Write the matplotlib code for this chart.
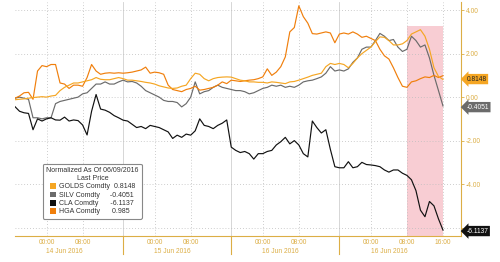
import matplotlib
matplotlib.use('Agg')
import matplotlib.pyplot as plt
import matplotlib.dates as mdates
import matplotlib.transforms as mtransforms
from matplotlib.patches import Patch
import pandas as pd

plt.rcParams['font.family'] = ['Liberation Sans', 'DejaVu Sans']

# hourly readings, 13 Jun 17:00 -> 17 Jun 16:00 (normalized, %)
times = pd.date_range('2016-06-13 17:00', periods=96, freq='h')

golds = [-0.12, -0.1, -0.08, -0.05, -0.02, 0.0, 0.02, 0.0, 0.05, 0.08,
         0.3, 0.45, 0.55, 0.65, 0.65, 0.7, 0.75, 0.8, 0.9, 0.82,
         0.8, 0.8, 0.85, 0.9, 0.85, 0.78, 0.78, 0.75, 0.72, 0.68,
         0.65, 0.6, 0.52, 0.47, 0.42, 0.4, 0.42, 0.5, 0.55, 0.85,
         1.1, 1.05, 0.85, 0.75, 0.85, 0.9, 0.92, 0.93, 0.92, 0.85,
         0.78, 0.75, 0.7, 0.7, 0.68, 0.68, 0.65, 0.7, 0.68, 0.65,
         0.62, 0.7, 0.72, 0.78, 0.85, 0.92, 1.0, 1.05, 1.1, 1.4,
         1.55, 1.5, 1.55, 1.5, 1.35, 1.55, 1.8, 2.0, 2.15, 2.3,
         2.55, 2.77, 2.75, 2.6, 2.4, 2.4, 2.45, 2.6, 2.9, 3.0,
         3.1, 2.8, 2.2, 1.35, 0.95, 0.8148]

silv = [-0.05, 0.0, -0.05, -0.1, -0.95, -0.95, -1.0, -0.95, -0.95, -0.3,
        -0.2, -0.15, -0.1, -0.05, 0.0, 0.15, 0.2, 0.4, 0.6, 0.6,
        0.7, 0.6, 0.6, 0.7, 0.78, 0.7, 0.72, 0.65, 0.5, 0.3,
        0.2, 0.1, 0.0, -0.15, -0.2, -0.2, -0.25, -0.45, -0.3, 0.0,
        0.7, 0.15, 0.25, 0.3, 0.45, 0.55, 0.45, 0.4, 0.35, 0.3,
        0.3, 0.25, 0.15, 0.2, 0.3, 0.4, 0.45, 0.55, 0.5, 0.55,
        0.45, 0.5, 0.45, 0.55, 0.7, 0.75, 0.78, 0.85, 0.93, 1.1,
        1.4, 1.2, 1.25, 1.2, 1.3, 1.6, 1.8, 2.2, 2.3, 2.3,
        2.6, 2.93, 2.8, 2.6, 2.65, 2.3, 2.1, 2.2, 2.8, 2.6,
        2.3, 2.4, 1.8, 1.0, 0.3, -0.4051]

cla = [-0.44, -0.65, -0.72, -0.75, -1.5, -1.0, -1.1, -1.0, -0.95, -1.05,
       -1.06, -0.92, -1.1, -1.05, -1.08, -1.28, -1.74, -0.65, 0.12, -0.55,
       -0.6, -0.7, -0.85, -0.95, -1.06, -1.1, -1.25, -1.4, -1.35, -1.45,
       -1.3, -1.35, -1.4, -1.5, -1.6, -1.9, -1.75, -1.85, -1.7, -1.75,
       -1.55, -1.0, -1.3, -1.35, -1.45, -1.3, -1.2, -1.05, -2.3, -2.45,
       -2.55, -2.5, -2.6, -2.85, -2.6, -2.6, -2.5, -2.45, -2.2, -2.05,
       -1.85, -2.15, -2.0, -2.2, -2.6, -2.75, -1.1, -1.4, -1.65, -1.5,
       -2.4, -3.2, -3.25, -3.25, -2.97, -3.25, -3.2, -3.0, -3.1, -3.12,
       -3.15, -3.2, -3.35, -3.45, -3.35, -3.35, -3.5, -3.6, -3.8, -4.3,
       -5.2, -5.5, -4.8, -5.0, -5.6, -6.1137]

hga = [-0.05, 0.05, 0.2, 0.22, -0.1, 1.2, 1.45, 1.4, 1.5, 1.5,
       0.65, 0.6, 0.4, 0.55, 0.55, 0.5, 0.9, 1.5, 1.2, 1.05,
       1.1, 1.12, 1.1, 1.12, 1.1, 1.12, 1.15, 1.2, 1.25, 1.38,
       1.1, 1.15, 1.12, 1.05, 0.55, 0.35, 0.3, 0.25, 0.35, 0.4,
       0.5, 0.32, 0.35, 0.4, 0.45, 0.55, 0.7, 0.62, 0.78, 0.75,
       0.72, 0.75, 0.78, 0.8, 0.85, 0.93, 1.3, 1.0, 1.15, 1.4,
       1.85, 3.0, 3.2, 4.2, 3.7, 3.4, 2.92, 2.9, 2.95, 3.0,
       2.95, 2.5, 2.9, 2.95, 2.9, 3.0, 2.9, 2.75, 2.8, 2.7,
       2.6, 2.2, 1.9, 1.75, 1.35, 0.9, 0.5, 0.45, 0.7, 0.75,
       0.85, 0.93, 0.9, 1.0, 0.9, 0.985]

names = ['GOLDS Comdty', 'SILV Comdty', 'CLA Comdty', 'HGA Comdty']
last_labels = ['0.8148', '-0.4051', '-6.1137', '0.985']
colors = ['#f5a623', '#6b6b6b', '#111111', '#f07f0c']

day_breaks = pd.to_datetime(['2016-06-14 17:00', '2016-06-15 17:00', '2016-06-16 17:00'])
tick_times = pd.to_datetime(['2016-06-14 00:00', '2016-06-14 08:00',
                             '2016-06-15 00:00', '2016-06-15 08:00',
                             '2016-06-16 00:00', '2016-06-16 08:00',
                             '2016-06-17 00:00', '2016-06-17 08:00',
                             '2016-06-17 16:00'])
date_pos = pd.to_datetime(['2016-06-14 04:00', '2016-06-15 04:00',
                           '2016-06-16 04:00', '2016-06-17 04:00'])
date_labels = ['14 Jun 2016', '15 Jun 2016', '16 Jun 2016', '16 Jun 2016']

gold = '#dcae45'

fig = plt.figure(figsize=(5, 2.62), dpi=100)
ax = fig.add_axes([0.03, 0.099, 0.892, 0.893])

ymin, ymax = -6.39, 4.37
ax.set_ylim(ymin, ymax)
ax.set_xlim(times[0], pd.Timestamp('2016-06-17 20:00'))

# shaded session
ax.fill_between(pd.to_datetime(['2016-06-17 08:00', '2016-06-17 16:00']), ymin, 3.26,
                color='#f8cdd3', lw=0, zorder=0)

for t in day_breaks:
    ax.axvline(t, color='#d0d0d0', lw=0.6, zorder=0.5)

ax.plot(times, golds, color=colors[0], lw=0.85, zorder=3)
ax.plot(times, silv, color=colors[1], lw=0.85, zorder=2)
ax.plot(times, cla, color=colors[2], lw=0.85, zorder=2)
ax.plot(times, hga, color=colors[3], lw=0.85, zorder=2)

# axes styling
for s in ['top', 'left']:
    ax.spines[s].set_visible(False)
for s in ['right', 'bottom']:
    ax.spines[s].set_color(gold)
    ax.spines[s].set_linewidth(0.8)

ax.yaxis.tick_right()
ax.set_yticks([-6, -4, -2, 0, 2, 4])
ax.set_yticklabels(['', '-4.00', '-2.00', '0.00', '2.00', '4.00'])
ax.tick_params(axis='y', colors=gold, labelsize=4.8, length=2, width=0.6, pad=1.5)
ax.set_xticks(tick_times)
ax.xaxis.set_major_formatter(mdates.DateFormatter('%H:%M'))
ax.tick_params(axis='x', colors=gold, labelsize=4.8, length=0, pad=2)
ax.grid(True, linestyle=(0, (1, 2.5)), color='#bdbdbd', lw=0.6)
ax.set_axisbelow(True)

xtrans = mtransforms.blended_transform_factory(ax.transData, ax.transAxes)
for t, lab in zip(date_pos, date_labels):
    ax.text(t, -0.05, lab, transform=xtrans, ha='center', va='top',
            fontsize=4.8, color=gold)
for t in day_breaks:
    ax.plot([t, t], [0, -0.075], transform=xtrans, color=gold, lw=0.8, clip_on=False)

# last value tags
ytrans = mtransforms.blended_transform_factory(ax.transAxes, ax.transData)
tag_y = [0.83, -0.46, -6.16]
tag_fc = ['#f5a623', '#6b6b6b', '#111111']
tag_tc = ['#222222', 'white', 'white']
for yv, lab, fc, tc in zip(tag_y, last_labels[:3], tag_fc, tag_tc):
    ax.text(1.012, yv, lab, transform=ytrans, ha='left', va='center', fontsize=4.8,
            color=tc, bbox=dict(boxstyle='larrow,pad=0.25', fc=fc, ec='none'),
            clip_on=False)

# legend
pad_names = ['GOLDS Comdty  ', 'SILV Comdty     ', 'CLA Comdty      ', 'HGA Comdty      ']
handles = [Patch(facecolor=c, edgecolor='none') for c in colors]
labels = [n + v for n, v in zip(pad_names, last_labels)]
leg = ax.legend(handles, labels, title='Normalized As Of 06/09/2016\nLast Price',
                loc='lower left', bbox_to_anchor=(0.055, 0.06), fontsize=5,
                title_fontsize=5, frameon=True, fancybox=True,
                handlelength=0.9, handleheight=0.9, handletextpad=0.4,
                labelspacing=0.15, borderpad=0.45, framealpha=1)
leg.get_frame().set_edgecolor('#888888')
leg.get_frame().set_linewidth(0.8)
leg.get_title().set_color('#333333')
leg.get_title().set_multialignment('center')
for t in leg.get_texts():
    t.set_color('#333333')

fig.savefig('out.png', dpi=100)
